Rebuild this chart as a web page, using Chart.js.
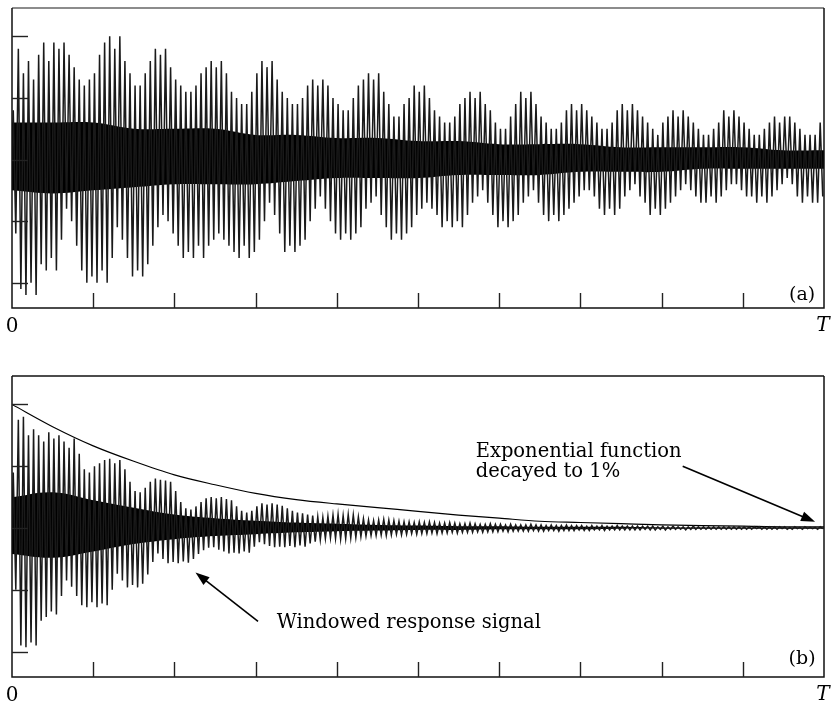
<!DOCTYPE html>
<html>
<head>
<meta charset="utf-8">
<script src="https://cdn.jsdelivr.net/npm/chart.js@4"></script>
<style>
  body { margin: 0; background: #fff; }
  canvas { position: absolute; left: 0; }
  #chart-a { top: 0; }
  #chart-b { top: 350px; }
</style>
</head>
<body>
<canvas id="chart-a" width="831" height="350"></canvas>
<canvas id="chart-b" width="831" height="352"></canvas>
<script>
// panel (a): response signal, one peak and one trough per cycle, in tenths of a tick
const upperA = [
  8, 18, 14, 16, 13, 17, 19, 16, 19, 18,
  19, 17, 15, 13, 12, 13, 14, 17, 19, 20,
  18, 20, 16, 14, 12, 12, 14, 16, 18, 17,
  18, 15, 13, 12, 11, 11, 12, 14, 15, 16,
  15, 16, 14, 11, 10, 9, 9, 11, 14, 16,
  15, 16, 13, 11, 10, 9, 9, 10, 12, 13,
  12, 13, 12, 10, 9, 8, 8, 10, 12, 13,
  14, 13, 14, 11, 9, 7, 7, 9, 10, 12,
  11, 12, 10, 8, 7, 6, 6, 7, 9, 10,
  11, 10, 11, 9, 8, 6, 5, 5, 7, 9,
  11, 10, 11, 9, 7, 6, 5, 5, 6, 8,
  9, 8, 9, 8, 7, 6, 5, 5, 6, 8,
  9, 8, 9, 8, 7, 6, 5, 4, 6, 7,
  8, 7, 8, 7, 6, 5, 4, 4, 5, 6,
  8, 7, 8, 7, 6, 5, 4, 4, 5, 6,
  7, 6, 7, 7, 6, 5, 4, 4, 4, 6
];
const lowerA = [
  12, 21, 22, 20, 22, 17, 18, 16, 18, 13,
  8, 10, 14, 18, 20, 19, 20, 18, 20, 16,
  11, 13, 16, 19, 18, 19, 17, 14, 11, 9,
  10, 12, 14, 16, 15, 16, 14, 16, 14, 13,
  12, 13, 14, 15, 16, 14, 16, 15, 13, 10,
  7, 9, 12, 15, 14, 15, 14, 13, 10, 8,
  6, 8, 10, 12, 13, 12, 13, 12, 11, 8,
  7, 6, 9, 11, 13, 12, 13, 12, 11, 9,
  8, 7, 8, 9, 11, 10, 11, 10, 11, 9,
  7, 6, 5, 7, 9, 11, 10, 11, 10, 9,
  7, 6, 5, 7, 9, 10, 9, 10, 9, 8,
  7, 6, 5, 5, 6, 8, 9, 8, 9, 8,
  6, 5, 4, 6, 7, 9, 8, 9, 8, 7,
  6, 5, 4, 5, 6, 7, 7, 6, 7, 6,
  5, 4, 4, 5, 6, 6, 7, 6, 7, 6,
  5, 4, 3, 4, 6, 7, 6, 7, 7, 6
];
// solid dark core of the signal, 21 samples across T
const coreTopA = [6, 6, 6, 5, 5, 5, 4, 4, 3.5, 3.5, 3, 3, 2.5, 2.5, 2.5, 2, 2, 2, 2, 1.5, 1.5];
const coreBotA = [-5, -5.5, -5, -4.5, -4, -4, -4, -3.5, -3, -3, -3, -2.5, -2.5, -2.5, -2, -2, -2, -1.5, -1.5, -1.5, -1.5];

// panel (b): windowed signal, in hundredths of a tick
const upperB = [
  90, 175, 180, 150, 160, 150, 140, 155, 145, 150,
  140, 130, 145, 120, 95, 90, 100, 105, 110, 112,
  105, 110, 95, 75, 60, 58, 65, 75, 80, 78,
  77, 75, 60, 42, 32, 30, 35, 42, 48, 50,
  48, 50, 47, 45, 35, 28, 25, 28, 35, 40,
  38, 40, 38, 36, 32, 28, 25, 24, 22, 20,
  18, 17, 19, 21, 22, 20, 22, 21, 18, 15,
  13, 12, 13, 14, 13, 12, 11, 10, 10, 9,
  10, 9, 10, 9, 8, 8, 9, 8, 7, 7,
  8, 7, 6, 6, 7, 6, 6, 5, 6, 5,
  5, 5, 6, 5, 5, 4, 5, 4, 4, 5,
  4, 4, 4, 3, 4, 3, 4, 3, 3, 4,
  3, 3, 3, 3, 3, 3, 3, 2, 3, 2,
  3, 2, 2, 2, 3, 2, 2, 2, 2, 2,
  2, 2, 2, 2, 2, 2, 2, 2, 2, 2,
  2, 2, 2, 1, 2, 1, 2, 1, 1, 2
];
const lowerB = [
  100, 190, 193, 185, 190, 150, 144, 135, 140, 110,
  85, 95, 110, 125, 128, 120, 128, 122, 125, 100,
  74, 85, 96, 92, 96, 90, 75, 55, 41, 50,
  57, 55, 57, 54, 56, 50, 42, 36, 32, 31,
  35, 38, 41, 40, 41, 38, 40, 30, 23, 26,
  29, 31, 30, 31, 29, 31, 28, 30, 25, 22,
  19, 17, 16, 17, 18, 17, 16, 15, 14, 13,
  12, 12, 11, 12, 11, 10, 11, 10, 9, 10,
  9, 9, 8, 9, 8, 8, 7, 8, 7, 7,
  7, 6, 7, 6, 6, 6, 5, 6, 5, 5,
  5, 5, 4, 5, 5, 4, 4, 5, 4, 4,
  4, 3, 4, 4, 3, 3, 4, 3, 3, 3,
  3, 3, 3, 3, 2, 3, 3, 2, 3, 2,
  2, 2, 3, 2, 2, 2, 2, 2, 2, 2,
  2, 2, 2, 2, 2, 2, 1, 2, 2, 2,
  2, 1, 2, 2, 1, 2, 1, 1, 2, 1
];
const coreTopB = [50, 58, 45, 33, 22, 16, 12, 9, 7, 5, 4, 3, 3, 2, 2, 2, 1, 1, 1, 1, 1];
const coreBotB = [-42, -48, -38, -26, -18, -13, -10, -7, -5, -4, -3, -3, -2, -2, -2, -1, -1, -1, -1, -1, -1];
// exponential window, 21 samples across T
const windowB = [200, 164, 133, 108, 86, 70, 56, 46, 39, 33, 27, 21, 16, 11, 9, 7, 5, 4, 3, 2, 2];

const xTicks = [0.1, 0.2, 0.3, 0.4, 0.5, 0.6, 0.7, 0.8, 0.9];
const yTicks = [-2, -1, 0, 1, 2];

function zigzag(up, low) {
  const pts = [{ x: 0, y: 0 }];
  up.forEach((u, i) => {
    pts.push({ x: (i + 0.25) / up.length, y: u });
    pts.push({ x: (i + 0.75) / up.length, y: -low[i] });
  });
  return pts;
}

function sampled(arr) {
  return arr.map((v, i) => ({ x: i / (arr.length - 1), y: v }));
}

const SERIF = '"DejaVu Serif", "Liberation Serif", serif';

function arrow(ctx, x1, y1, x2, y2) {
  const a = Math.atan2(y2 - y1, x2 - x1);
  const len = 14, hw = 5;
  ctx.beginPath();
  ctx.moveTo(x1, y1);
  ctx.lineTo(x2 - Math.cos(a) * len * 0.8, y2 - Math.sin(a) * len * 0.8);
  ctx.stroke();
  ctx.beginPath();
  ctx.moveTo(x2, y2);
  ctx.lineTo(x2 - Math.cos(a) * len + Math.sin(a) * hw, y2 - Math.sin(a) * len - Math.cos(a) * hw);
  ctx.lineTo(x2 - Math.cos(a) * len - Math.sin(a) * hw, y2 - Math.sin(a) * len + Math.cos(a) * hw);
  ctx.closePath();
  ctx.fill();
}

const framePlugin = {
  id: 'frame',
  afterDraw(chart, args, opts) {
    const { ctx, chartArea: ca } = chart;
    const xs = chart.scales.x, ys = chart.scales.y;
    ctx.save();
    ctx.lineWidth = 1.5;
    ctx.strokeStyle = opts.topColor;
    ctx.beginPath();
    ctx.moveTo(ca.left, ca.top); ctx.lineTo(ca.right, ca.top);
    ctx.stroke();
    ctx.strokeStyle = '#111';
    ctx.beginPath();
    ctx.moveTo(ca.left, ca.top); ctx.lineTo(ca.left, ca.bottom);
    ctx.lineTo(ca.right, ca.bottom); ctx.lineTo(ca.right, ca.top);
    ctx.stroke();
    ctx.lineWidth = 1.4;
    ctx.strokeStyle = '#222';
    xTicks.forEach(t => {
      const px = Math.round(xs.getPixelForValue(t)) + 0.5;
      ctx.beginPath(); ctx.moveTo(px, ca.bottom); ctx.lineTo(px, ca.bottom - 15); ctx.stroke();
    });
    yTicks.forEach(t => {
      const py = Math.round(ys.getPixelForValue(t * opts.unit)) + 0.5;
      ctx.beginPath(); ctx.moveTo(ca.left, py); ctx.lineTo(ca.left + 16, py); ctx.stroke();
    });
    ctx.fillStyle = '#000';
    ctx.textAlign = 'center';
    ctx.textBaseline = 'alphabetic';
    ctx.font = '20px ' + SERIF;
    ctx.fillText('0', ca.left, ca.bottom + 24);
    ctx.font = 'italic 20px ' + SERIF;
    ctx.fillText('T', ca.right - 1, ca.bottom + 23);
    ctx.font = '19px ' + SERIF;
    ctx.fillText(opts.tag, xs.getPixelForValue(0.973), ys.getPixelForValue(opts.tagY) + 7);

    if (opts.notes) {
      ctx.font = '19.5px ' + SERIF;
      ctx.textAlign = 'left';
      opts.notes.forEach(n => {
        ctx.fillText(n.text, xs.getPixelForValue(n.x), ys.getPixelForValue(n.y));
      });
      ctx.lineWidth = 1.6;
      ctx.strokeStyle = '#000';
      opts.arrows.forEach(a => {
        arrow(ctx, xs.getPixelForValue(a[0]), ys.getPixelForValue(a[1]),
          xs.getPixelForValue(a[2]), ys.getPixelForValue(a[3]));
      });
    }
    ctx.restore();
  }
};

function makeChart(id, datasets, yMin, yMax, pad, frameOpts) {
  return new Chart(document.getElementById(id), {
    type: 'line',
    data: { datasets },
    options: {
      responsive: false,
      animation: false,
      events: [],
      layout: { padding: pad },
      plugins: { legend: { display: false }, tooltip: { enabled: false }, frame: frameOpts },
      elements: { point: { radius: 0 }, line: { tension: 0 } },
      scales: {
        x: { type: 'linear', min: 0, max: 1, display: false },
        y: { min: yMin, max: yMax, display: false }
      }
    },
    plugins: [framePlugin]
  });
}

const coreStyle = { borderWidth: 0, borderColor: 'rgba(0,0,0,0)', backgroundColor: '#000', tension: 0.4 };

makeChart('chart-a', [
  { data: zigzag(upperA, lowerA), borderColor: '#1a1a1a', borderWidth: 1.5, fill: false },
  { ...coreStyle, data: sampled(coreTopA), fill: '+1' },
  { ...coreStyle, data: sampled(coreBotA), fill: false }
], -24.1, 24.6, { left: 12, right: 7, top: 8, bottom: 42 },
  { unit: 10, topColor: '#666', tag: '(a)', tagY: -21.7 });

makeChart('chart-b', [
  { data: zigzag(upperB, lowerB), borderColor: '#1a1a1a', borderWidth: 1.5, fill: false },
  { ...coreStyle, data: sampled(coreTopB), fill: '+1' },
  { ...coreStyle, data: sampled(coreBotB), fill: false },
  { data: sampled(windowB), borderColor: '#000', borderWidth: 1.2, fill: false, cubicInterpolationMode: 'monotone' }
], -241, 246, { left: 12, right: 7, top: 26, bottom: 25 },
  {
    unit: 100, topColor: '#111', tag: '(b)', tagY: -209,
    notes: [
      { text: 'Exponential function', x: 0.571, y: 115 },
      { text: 'decayed to 1%', x: 0.571, y: 83 },
      { text: 'Windowed response signal', x: 0.326, y: -162 }
    ],
    arrows: [
      [0.303, -151, 0.226, -72],
      [0.826, 100, 0.989, 10]
    ]
  });
</script>
</body>
</html>
